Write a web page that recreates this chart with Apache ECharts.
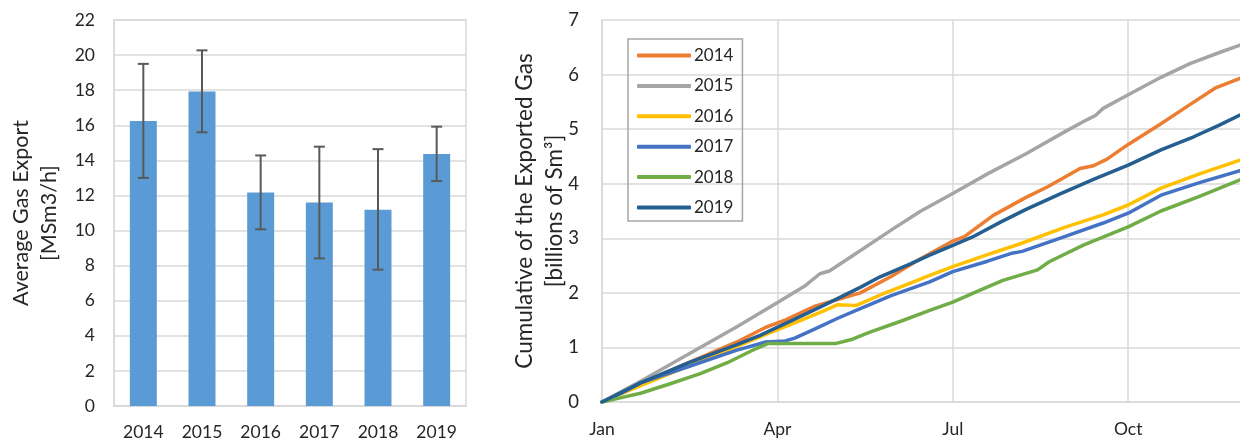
<!DOCTYPE html>
<html>
<head>
<meta charset="utf-8">
<script src="https://cdn.jsdelivr.net/npm/echarts@6/dist/echarts.min.js"></script>
<style>
  html, body { margin: 0; padding: 0; background: #fff; }
  #chart { width: 1240px; height: 441px; }
</style>
</head>
<body>
<div id="chart"></div>
<script>
// bar chart: average export per year with error bars
const years = ['2014', '2015', '2016', '2017', '2018', '2019']
const avgExport = [16.24, 17.93, 12.17, 11.6, 11.19, 14.36]
const errHigh = [19.5, 20.27, 14.28, 14.78, 14.64, 15.92]
const errLow = [13.0, 15.6, 10.07, 8.41, 7.77, 12.82]

// cumulative export, [day of year, billions Sm3]
const cum2014 = [[0, 0], [20, 0.33], [45, 0.72], [70, 1.1], [85, 1.37], [95, 1.5], [110, 1.75], [134, 2.0], [150, 2.3], [165, 2.62], [182, 2.95], [188, 3.03], [203, 3.42], [220, 3.75], [231, 3.94], [240, 4.12], [248, 4.28], [255, 4.33], [262, 4.45], [273, 4.72], [290, 5.1], [305, 5.45], [318, 5.75], [331, 5.93]]
const cum2015 = [[0, 0], [20, 0.38], [45, 0.88], [70, 1.38], [90, 1.8], [105, 2.12], [113, 2.35], [118, 2.4], [130, 2.68], [150, 3.15], [165, 3.49], [182, 3.82], [200, 4.18], [220, 4.55], [240, 4.95], [252, 5.18], [256, 5.25], [260, 5.38], [273, 5.63], [290, 5.95], [305, 6.2], [320, 6.4], [331, 6.54]]
const cum2016 = [[0, 0], [20, 0.3], [45, 0.66], [70, 1.02], [85, 1.24], [100, 1.45], [115, 1.67], [122, 1.78], [132, 1.77], [145, 1.97], [160, 2.18], [170, 2.32], [182, 2.48], [200, 2.7], [217, 2.9], [240, 3.2], [260, 3.43], [273, 3.61], [290, 3.92], [310, 4.18], [331, 4.43]]
const cum2017 = [[0, 0], [10, 0.16], [20, 0.35], [45, 0.65], [70, 0.95], [85, 1.1], [95, 1.12], [100, 1.17], [110, 1.33], [122, 1.53], [134, 1.71], [150, 1.95], [170, 2.2], [182, 2.39], [200, 2.58], [212, 2.72], [218, 2.76], [240, 3.03], [260, 3.28], [273, 3.46], [290, 3.79], [310, 4.02], [331, 4.24]]
const cum2018 = [[0, 0], [10, 0.08], [20, 0.16], [35, 0.33], [51, 0.52], [65, 0.72], [80, 0.98], [86, 1.07], [121, 1.07], [130, 1.15], [139, 1.28], [155, 1.48], [170, 1.68], [182, 1.83], [195, 2.03], [208, 2.23], [226, 2.42], [232, 2.57], [250, 2.88], [273, 3.21], [290, 3.5], [310, 3.77], [331, 4.07]]
const cum2019 = [[0, 0], [20, 0.35], [45, 0.72], [70, 1.05], [82, 1.22], [100, 1.52], [115, 1.77], [134, 2.1], [144, 2.29], [160, 2.53], [170, 2.69], [182, 2.87], [192, 3.02], [207, 3.3], [220, 3.53], [238, 3.82], [255, 4.08], [273, 4.34], [290, 4.62], [307, 4.86], [320, 5.07], [331, 5.26]]

const monthDays = [0, 91, 182, 273]
const monthNames = ['Jan', 'Apr', 'Jul', 'Oct']

const lineColors = ['#ED7D31', '#A5A5A5', '#FFC000', '#4472C4', '#70AD47', '#255E91']
const cumData = [cum2014, cum2015, cum2016, cum2017, cum2018, cum2019]

const font = 'Lato'
const textColor = '#262626'
const gridColor = '#d9d9d9'

const chart = echarts.init(document.getElementById('chart'))

const lineSeries = cumData.map((d, i) => ({
  name: years[i],
  type: 'line',
  xAxisIndex: 1,
  yAxisIndex: 1,
  showSymbol: false,
  symbol: 'none',
  data: d,
  color: lineColors[i],
  lineStyle: { width: 3.5, color: lineColors[i], cap: 'round', join: 'round' }
}))

chart.setOption({
  animation: false,
  textStyle: { fontFamily: font },
  grid: [
    { left: 114, top: 20, width: 352, height: 386, show: true, borderColor: gridColor, borderWidth: 1.5 },
    { left: 602, top: 20, right: 0, bottom: 39 }
  ],
  legend: {
    left: 628,
    top: 39,
    orient: 'vertical',
    data: years,
    icon: 'roundRect',
    itemWidth: 54,
    itemHeight: 4,
    itemGap: 13.4,
    padding: [8, 9, 5, 9],
    borderColor: '#a6a6a6',
    borderWidth: 1.5,
    textStyle: { fontSize: 17, color: textColor, fontFamily: font, padding: [0, 0, 0, -2] }
  },
  xAxis: [{
    gridIndex: 0,
    type: 'category',
    data: years,
    axisTick: { show: false },
    axisLine: { lineStyle: { color: gridColor, width: 1.5 } },
    axisLabel: { fontSize: 17.5, color: textColor, margin: 17 }
  }, {
    gridIndex: 1,
    type: 'value',
    min: 0,
    max: 331,
    interval: 91,
    axisTick: { show: false },
    axisLine: { lineStyle: { color: gridColor, width: 1.5 } },
    splitLine: { show: true, showMaxLine: false, lineStyle: { color: gridColor, width: 1.5 } },
    axisLabel: {
      fontSize: 17.5,
      color: textColor,
      margin: 18,
      showMaxLabel: false,
      formatter: function(v) {
        const k = monthDays.indexOf(v)
        return k >= 0 ? monthNames[k] : ''
      }
    }
  }],
  yAxis: [{
    gridIndex: 0,
    type: 'value',
    min: 0,
    max: 22,
    interval: 2,
    axisLine: { show: true, lineStyle: { color: gridColor, width: 1.5 } },
    axisTick: { show: false },
    splitLine: { lineStyle: { color: gridColor, width: 1.5 } },
    axisLabel: { fontSize: 17.5, color: textColor, margin: 19 },
    name: 'Average Gas Export\n[MSm3/h]',
    nameLocation: 'middle',
    nameGap: 51,
    nameTextStyle: { fontSize: 21.5, color: textColor, lineHeight: 28, fontFamily: font }
  }, {
    gridIndex: 1,
    type: 'value',
    min: 0,
    max: 7,
    interval: 1,
    axisLine: { show: true, lineStyle: { color: gridColor, width: 1.5 } },
    axisTick: { show: false },
    splitLine: { lineStyle: { color: gridColor, width: 1.5 } },
    axisLabel: { fontSize: 18.5, color: textColor, margin: 23 },
    name: 'Cumulative of the Exported Gas\n[billions of Sm³]',
    nameLocation: 'middle',
    nameGap: 32,
    nameMoveOverlap: false,
    nameTextStyle: { fontSize: 22.5, color: textColor, lineHeight: 30, fontFamily: font }
  }],
  series: [{
    type: 'bar',
    xAxisIndex: 0,
    yAxisIndex: 0,
    data: avgExport,
    barWidth: '46%',
    itemStyle: { color: '#5B9BD5' }
  }, {
    type: 'custom',
    xAxisIndex: 0,
    yAxisIndex: 0,
    data: years.map((y, i) => [i, errLow[i], errHigh[i]]),
    z: 10,
    renderItem: function(params, api) {
      const lo = api.coord([api.value(0), api.value(1)])
      const hi = api.coord([api.value(0), api.value(2)])
      const half = 5.5
      const style = { stroke: '#595959', lineWidth: 2 }
      return {
        type: 'group',
        children: [
          { type: 'line', shape: { x1: hi[0], y1: hi[1], x2: lo[0], y2: lo[1] }, style: style },
          { type: 'line', shape: { x1: hi[0] - half, y1: hi[1], x2: hi[0] + half, y2: hi[1] }, style: style },
          { type: 'line', shape: { x1: lo[0] - half, y1: lo[1], x2: lo[0] + half, y2: lo[1] }, style: style }
        ]
      }
    }
  }].concat(lineSeries)
})
</script>
</body>
</html>
